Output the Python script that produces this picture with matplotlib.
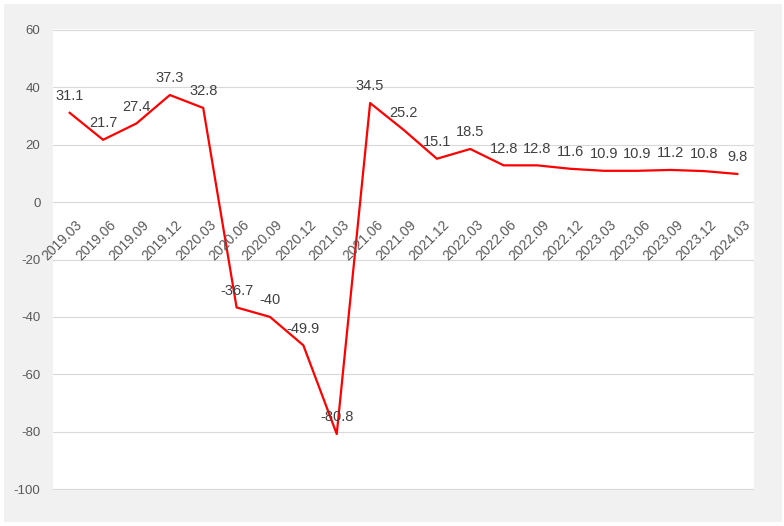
import matplotlib
matplotlib.use("Agg")
import matplotlib.pyplot as plt
from matplotlib.patches import Rectangle
import matplotlib.transforms as mtransforms

periods = ["2019.03", "2019.06", "2019.09", "2019.12", "2020.03", "2020.06",
           "2020.09", "2020.12", "2021.03", "2021.06", "2021.09", "2021.12",
           "2022.03", "2022.06", "2022.09", "2022.12", "2023.03", "2023.06",
           "2023.09", "2023.12", "2024.03"]
growth = [31.1, 21.7, 27.4, 37.3, 32.8, -36.7, -40, -49.9, -80.8, 34.5, 25.2,
          15.1, 18.5, 12.8, 12.8, 11.6, 10.9, 10.9, 11.2, 10.8, 9.8]

plt.rcParams['font.family'] = ['Liberation Sans', 'DejaVu Sans']
plt.rcParams['axes.unicode_minus'] = False

W, H = 784, 526
fig = plt.figure(figsize=(W / 100, H / 100), dpi=100, facecolor='white')
# grey chart background inside a thin white margin
fig.patches.append(Rectangle((4 / W, 4 / H), 778 / W, 518 / H, transform=fig.transFigure,
                             facecolor='#f1f1f1', edgecolor='none', zorder=-10))

ax = fig.add_axes([53 / W, (H - 490) / H, (754 - 53) / W, (490 - 29) / H])
ax.set_facecolor('white')
x = list(range(len(periods)))
ax.plot(x, growth, color='#ff0000', lw=1.6, zorder=3)

ax.set_xlim(-0.5, len(periods) - 0.5)
ax.set_ylim(-100.3, 60.3)
ax.set_yticks(range(-100, 61, 20))
ax.grid(axis='y', color='#d9d9d9', lw=0.8)
ax.set_axisbelow(True)
for s in ax.spines.values():
    s.set_visible(False)
ax.set_xticks([])
ax.tick_params(axis='y', length=0, pad=9, labelsize=9.5, labelcolor='#595959')

# category labels hang just below the zero line
tr = ax.transData + mtransforms.ScaledTranslation(4 / 72, -11 / 72, fig.dpi_scale_trans)
for i, lab in enumerate(periods):
    ax.text(i, 0, lab, transform=tr, rotation=45, rotation_mode='anchor',
            ha='right', va='top', fontsize=10, color='#595959')

# value labels
for i, v in enumerate(growth):
    ax.annotate(f"{v:g}", (i, v), xytext=(0, 7), textcoords='offset points',
                ha='center', va='bottom', fontsize=10.5, color='#404040', zorder=4)

fig.savefig('out.png', dpi=100, facecolor=fig.get_facecolor())
